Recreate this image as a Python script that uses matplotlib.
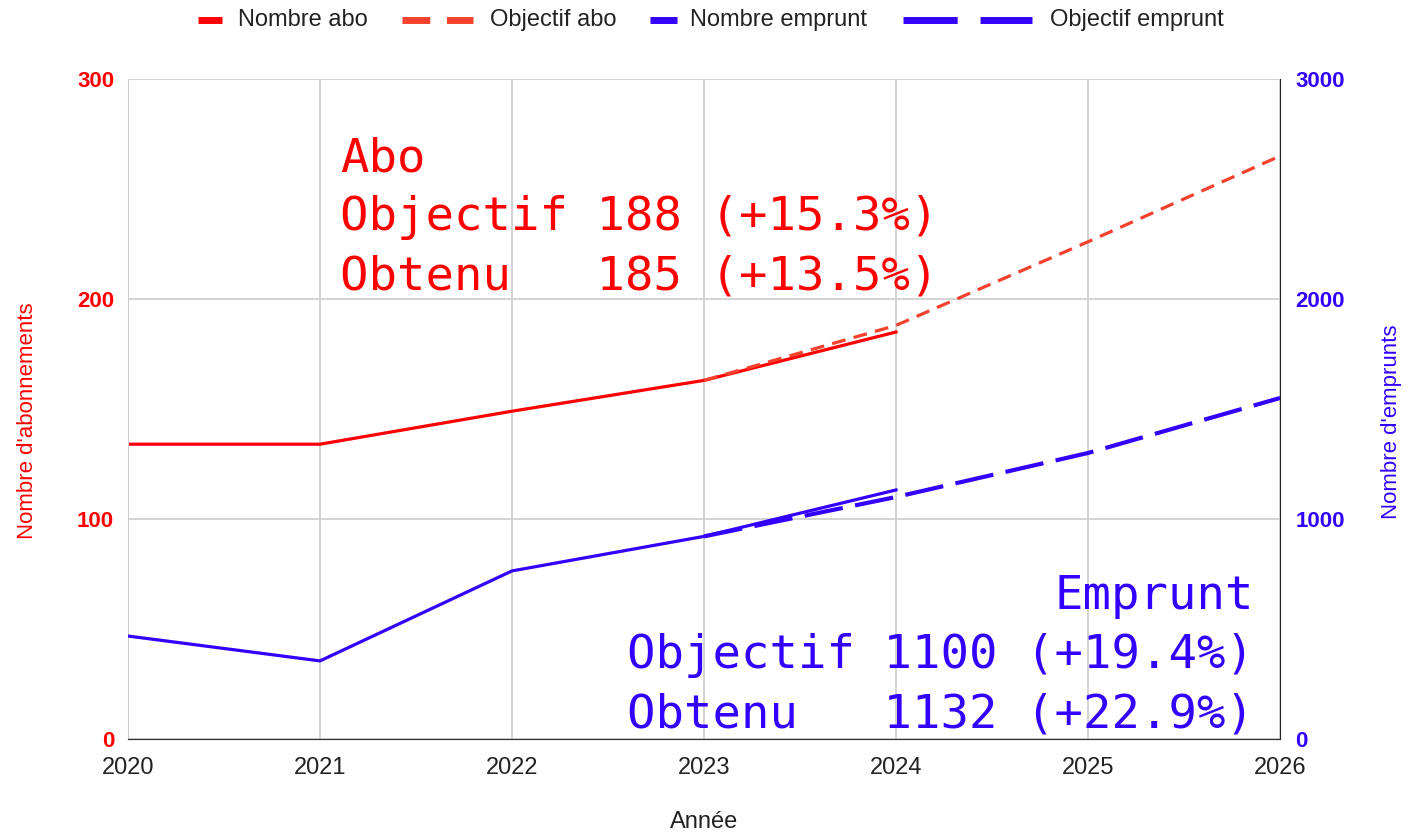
import matplotlib.pyplot as plt
from matplotlib.lines import Line2D

plt.rcParams['font.family'] = ['Liberation Sans', 'DejaVu Sans']
plt.rcParams['lines.scale_dashes'] = False

years = [2020, 2021, 2022, 2023, 2024, 2025, 2026]

# abonnements (axe gauche)
abo_years = [2020, 2021, 2022, 2023, 2024]
abo = [134, 134, 149, 163, 185]
obj_abo_years = [2023, 2024, 2025, 2026]
obj_abo = [163, 188, 226, 265]

# emprunts (axe droit)
emp_years = [2020, 2021, 2022, 2023, 2024]
emprunt = [468, 355, 764, 921, 1132]
obj_emp_years = [2023, 2024, 2025, 2026]
obj_emprunt = [921, 1100, 1300, 1550]

labels = ['Nombre abo', 'Objectif abo', 'Nombre emprunt', 'Objectif emprunt']

RED = '#ff0000'
RED_OBJ = '#f4412d'
BLUE = '#3300ff'
W, H = 1406, 834


def fx(px):
    return px / W


def fy(py):
    return 1 - py / H


fig = plt.figure(figsize=(W / 100, H / 100), dpi=100)
ax = fig.add_axes([fx(128), fy(739), (1280 - 128) / W, (739 - 79) / H])
ax2 = ax.twinx()

ax.plot(abo_years, abo, color=RED, lw=2.3)
ax.plot(obj_abo_years, obj_abo, color=RED_OBJ, lw=2.3, dashes=(10, 6))
ax2.plot(emp_years, emprunt, color=BLUE, lw=2.3)
ax2.plot(obj_emp_years, obj_emprunt, color=BLUE, lw=3, dashes=(28, 9))

ax.set_xlim(2020, 2026)
ax.set_ylim(0, 300)
ax2.set_ylim(0, 3000)
ax.set_xticks(years)
ax.set_yticks([0, 100, 200, 300])
ax2.set_yticks([0, 1000, 2000, 3000])

ax.grid(True, color='#cccccc', lw=1.2)
ax.set_axisbelow(True)
for a in (ax, ax2):
    a.spines['top'].set_visible(False)
    a.spines['left'].set_color('#cccccc')
    a.spines['bottom'].set_color('#333333')
    a.spines['right'].set_color('#222222')
    a.tick_params(length=0)
ax2.spines['left'].set_visible(False)
ax.spines['right'].set_visible(False)

ax.tick_params(axis='y', colors=RED, labelsize=16, pad=10)
ax2.tick_params(axis='y', colors=BLUE, labelsize=16, pad=11)
ax.tick_params(axis='x', labelsize=17, pad=13, labelcolor='#222222')
for lab in ax.get_yticklabels() + ax2.get_yticklabels():
    lab.set_fontweight('bold')

fig.text(fx(28), fy(421), "Nombre d'abonnements", color=RED, fontsize=16,
         rotation=90, ha='center', va='center')
fig.text(fx(1392), fy(422), "Nombre d'emprunts", color=BLUE, fontsize=16,
         rotation=90, ha='center', va='center')
fig.text(fx(704), fy(822), 'Année', color='#222222', fontsize=17,
         ha='center', va='center')

mono = 'DejaVu Sans Mono'
fig.text(fx(340), fy(136), 'Abo\nObjectif 188 (+15.3%)\nObtenu   185 (+13.5%)',
         color=RED, fontsize=34, family=mono, ha='left', va='top', linespacing=1.4)
fig.text(fx(1254), fy(574), 'Emprunt\nObjectif 1100 (+19.4%)\nObtenu   1132 (+22.9%)',
         color=BLUE, fontsize=34, family=mono, ha='right', va='top', linespacing=1.4,
         multialignment='right')

# légende en haut
legend_items = [
    (RED, None, 198, 222, 238),
    (RED_OBJ, (20, 12), 402, 473, 490),
    (BLUE, None, 650, 677, 690),
    (BLUE, (39, 16.5), 903, 1032, 1050),
]
for (col, dash, x0, x1, xt), lab in zip(legend_items, labels):
    ln = Line2D([fx(x0), fx(x1)], [fy(20), fy(20)], transform=fig.transFigure,
                color=col, lw=5, solid_capstyle='butt', dash_capstyle='butt')
    if dash:
        ln.set_dashes(dash)
    fig.add_artist(ln)
    fig.text(fx(xt), fy(20), lab, color='#222222', fontsize=17, ha='left', va='center')

fig.savefig('out.png', dpi=100)
